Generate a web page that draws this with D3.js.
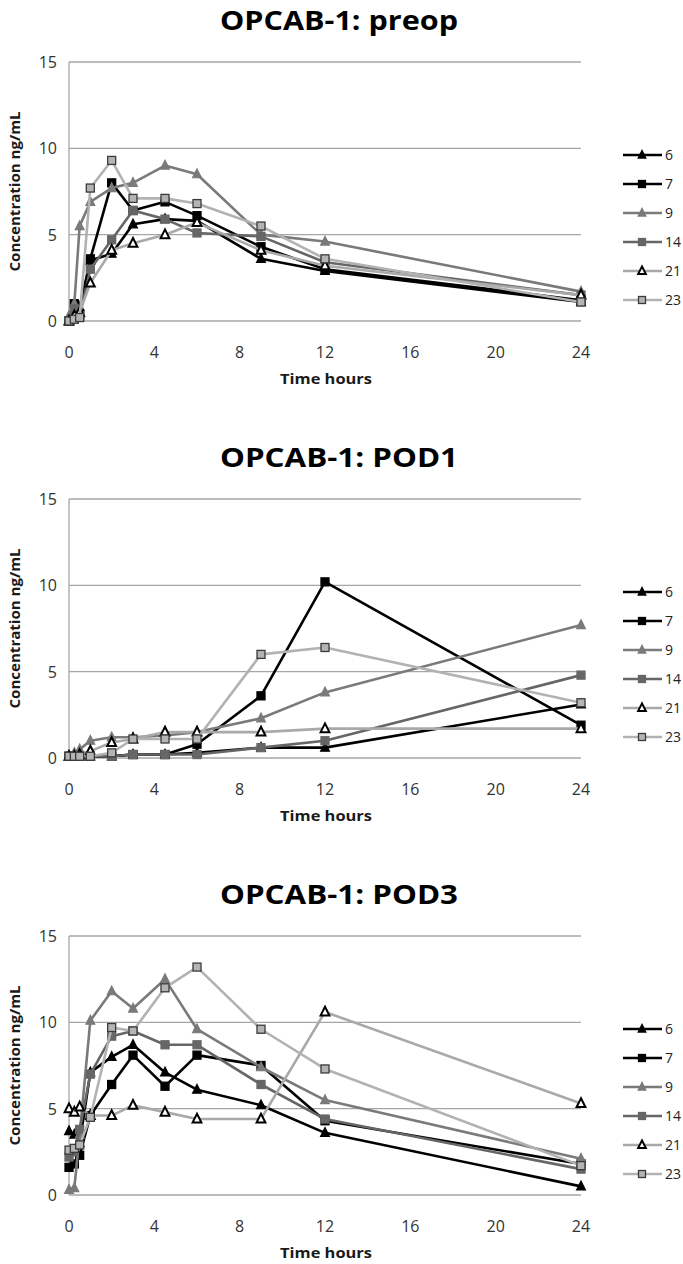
<!DOCTYPE html>
<html><head><meta charset="utf-8">
<script src="https://cdn.jsdelivr.net/npm/d3@7"></script>
<style>html,body{margin:0;padding:0;background:#fff;}svg{display:block;}</style>
</head><body>
<svg id="chart" width="683" height="1264"></svg>
<script>
const times = [0, 0.25, 0.5, 1, 2, 3, 4.5, 6, 9, 12, 24];
const seriesNames = ["6", "7", "9", "14", "21", "23"];
const xTicks = [0, 4, 8, 12, 16, 20, 24];
const yTicks = [0, 5, 10, 15];
const panelTitles = ["OPCAB-1: preop", "OPCAB-1: POD1", "OPCAB-1: POD3"];

const preop6  = [0, 0.2, 0.8, 3.5, 3.9, 5.6, 5.9, 5.8, 3.6, 2.9, 1.1];
const preop7  = [0, 1.0, 0.4, 3.6, 8.0, 6.4, 6.9, 6.1, 4.3, 3.0, 1.2];
const preop9  = [0.3, 1.0, 5.5, 6.9, 7.7, 8.0, 9.0, 8.5, 5.0, 4.6, 1.7];
const preop14 = [0, 0.7, 0.3, 3.0, 4.7, 6.4, 5.9, 5.1, 4.9, 3.4, 1.5];
const preop21 = [0, 0.3, 0.5, 2.2, 4.1, 4.5, 5.0, 5.7, 4.1, 3.2, 1.5];
const preop23 = [0, 0.1, 0.2, 7.7, 9.3, 7.1, 7.1, 6.8, 5.5, 3.6, 1.1];

const pod1_6  = [0.1, 0.1, 0.1, 0.1, 0.1, 0.2, 0.2, 0.3, 0.6, 0.6, 3.1];
const pod1_7  = [0.1, 0.1, 0.1, 0.1, 0.1, 0.2, 0.2, 0.8, 3.6, 10.2, 1.9];
const pod1_9  = [0.1, 0.3, 0.5, 1.0, 1.2, 1.2, 1.3, 1.5, 2.3, 3.8, 7.7];
const pod1_14 = [0.1, 0.1, 0.1, 0.1, 0.1, 0.2, 0.2, 0.2, 0.6, 1.0, 4.8];
const pod1_21 = [0.1, 0.1, 0.2, 0.4, 0.9, 1.1, 1.5, 1.5, 1.5, 1.7, 1.7];
const pod1_23 = [0.1, 0.1, 0.1, 0.1, 0.3, 1.1, 1.1, 1.1, 6.0, 6.4, 3.2];

const pod3_6  = [3.7, 3.5, 3.0, 7.1, 8.0, 8.7, 7.1, 6.1, 5.2, 3.6, 0.5];
const pod3_7  = [1.6, 1.8, 2.3, 4.6, 6.4, 8.1, 6.3, 8.1, 7.5, 4.3, 1.8];
const pod3_9  = [0.3, 0.4, 3.5, 10.1, 11.8, 10.8, 12.5, 9.6, 7.4, 5.5, 2.1];
const pod3_14 = [2.2, 2.5, 3.8, 7.0, 9.2, 9.5, 8.7, 8.7, 6.4, 4.4, 1.5];
const pod3_21 = [5.0, 4.8, 5.1, 4.6, 4.6, 5.2, 4.8, 4.4, 4.4, 10.6, 5.3];
const pod3_23 = [2.6, 2.7, 2.9, 4.5, 9.7, 9.5, 12.0, 13.2, 9.6, 7.3, 1.7];

const panels = [
  [preop6, preop7, preop9, preop14, preop21, preop23],
  [pod1_6, pod1_7, pod1_9, pod1_14, pod1_21, pod1_23],
  [pod3_6, pod3_7, pod3_9, pod3_14, pod3_21, pod3_23]
];

const styles = [
  {line: "#000000", shape: "tri", fill: "#000000", stroke: "#000000"},
  {line: "#000000", shape: "sq",  fill: "#000000", stroke: "#000000"},
  {line: "#7a7a7a", shape: "tri", fill: "#7a7a7a", stroke: "#7a7a7a"},
  {line: "#666666", shape: "sq",  fill: "#666666", stroke: "#666666"},
  {line: "#a9a9a9", shape: "tri", fill: "#ffffff", stroke: "#000000"},
  {line: "#b2b2b2", shape: "sq",  fill: "#b4b4b4", stroke: "#3a3a3a"}
];

const svg = d3.select("#chart");
const panelOffsets = [0, 437, 874];
const x = d3.scaleLinear().domain([0, 24]).range([69, 581]);
const y = d3.scaleLinear().domain([0, 15]).range([321, 62]);

function marker(g, shape, cx, cy, st, size) {
  if (shape === "sq") {
    g.append("rect").attr("x", cx - size/2).attr("y", cy - size/2)
      .attr("width", size).attr("height", size)
      .attr("fill", st.fill).attr("stroke", st.stroke).attr("stroke-width", 1.3);
  } else {
    const s = size * 1.1;
    const pts = [[cx, cy - s*0.6], [cx + s/2, cy + s*0.4], [cx - s/2, cy + s*0.4]];
    g.append("path").attr("d", "M" + pts.map(p => p.join(",")).join("L") + "Z")
      .attr("fill", st.fill).attr("stroke", st.stroke)
      .attr("stroke-width", st.fill === "#ffffff" ? 2 : 1.2)
      .attr("stroke-linejoin", "miter");
  }
}

panels.forEach((data, pi) => {
  const g = svg.append("g").attr("transform", `translate(0,${panelOffsets[pi]})`);

  g.append("text").attr("x", 339).attr("y", 30).attr("text-anchor", "middle")
    .attr("font-family", "'Open Sans', sans-serif").attr("font-weight", "bold")
    .attr("font-size", 27).attr("fill", "#000")
    .attr("textLength", 238).attr("lengthAdjust", "spacingAndGlyphs")
    .text(panelTitles[pi]);

  g.selectAll(".grid").data(yTicks).enter().append("line")
    .attr("x1", x(0)).attr("x2", x(24)).attr("y1", d => y(d)).attr("y2", d => y(d))
    .attr("stroke", "#a6a6a6").attr("stroke-width", 1.3);
  g.append("line").attr("x1", x(0)).attr("x2", x(0)).attr("y1", y(0)).attr("y2", y(15))
    .attr("stroke", "#a6a6a6").attr("stroke-width", 1.3);

  g.selectAll(".yt").data(yTicks).enter().append("text")
    .attr("x", 57).attr("y", d => y(d) + 6).attr("text-anchor", "end")
    .attr("font-family", "'Open Sans', sans-serif").attr("font-size", 16).attr("fill", "#333")
    .text(d => d);
  g.selectAll(".xt").data(xTicks).enter().append("text")
    .attr("x", d => x(d)).attr("y", 358).attr("text-anchor", "middle")
    .attr("font-family", "'Open Sans', sans-serif").attr("font-size", 16).attr("fill", "#333")
    .text(d => d);

  g.append("text").attr("x", 326).attr("y", 384).attr("text-anchor", "middle")
    .attr("font-family", "'Open Sans', sans-serif").attr("font-weight", "bold")
    .attr("font-size", 15).attr("fill", "#1a1a1a")
    .attr("textLength", 92).attr("lengthAdjust", "spacingAndGlyphs")
    .text("Time hours");
  g.append("text").attr("transform", `translate(20,${y(7.5)}) rotate(-90)`)
    .attr("text-anchor", "middle")
    .attr("font-family", "'Open Sans', sans-serif").attr("font-weight", "bold")
    .attr("font-size", 15).attr("fill", "#1a1a1a")
    .attr("textLength", 160).attr("lengthAdjust", "spacingAndGlyphs")
    .text("Concentration ng/mL");

  const line = d3.line().x((d, i) => x(times[i])).y(d => y(d));

  data.forEach((vals, si) => {
    const st = styles[si];
    const sg = g.append("g");
    sg.append("path").attr("d", line(vals)).attr("fill", "none")
      .attr("stroke", st.line).attr("stroke-width", 2.6).attr("stroke-linejoin", "round");
    vals.forEach((v, i) => marker(sg, st.shape, x(times[i]), y(v), st, 8));
  });

  const ly0 = 155, lstep = 29;
  seriesNames.forEach((name, si) => {
    const st = styles[si];
    const ly = ly0 + si * lstep;
    const lg = g.append("g");
    lg.append("line").attr("x1", 623).attr("x2", 662).attr("y1", ly).attr("y2", ly)
      .attr("stroke", st.line).attr("stroke-width", 2.6);
    marker(lg, st.shape, 642, ly, st, 7);
    lg.append("text").attr("x", 665).attr("y", ly + 5)
      .attr("font-family", "'Open Sans', sans-serif").attr("font-size", 14).attr("fill", "#222")
      .text(name);
  });
});
</script>
</body></html>
